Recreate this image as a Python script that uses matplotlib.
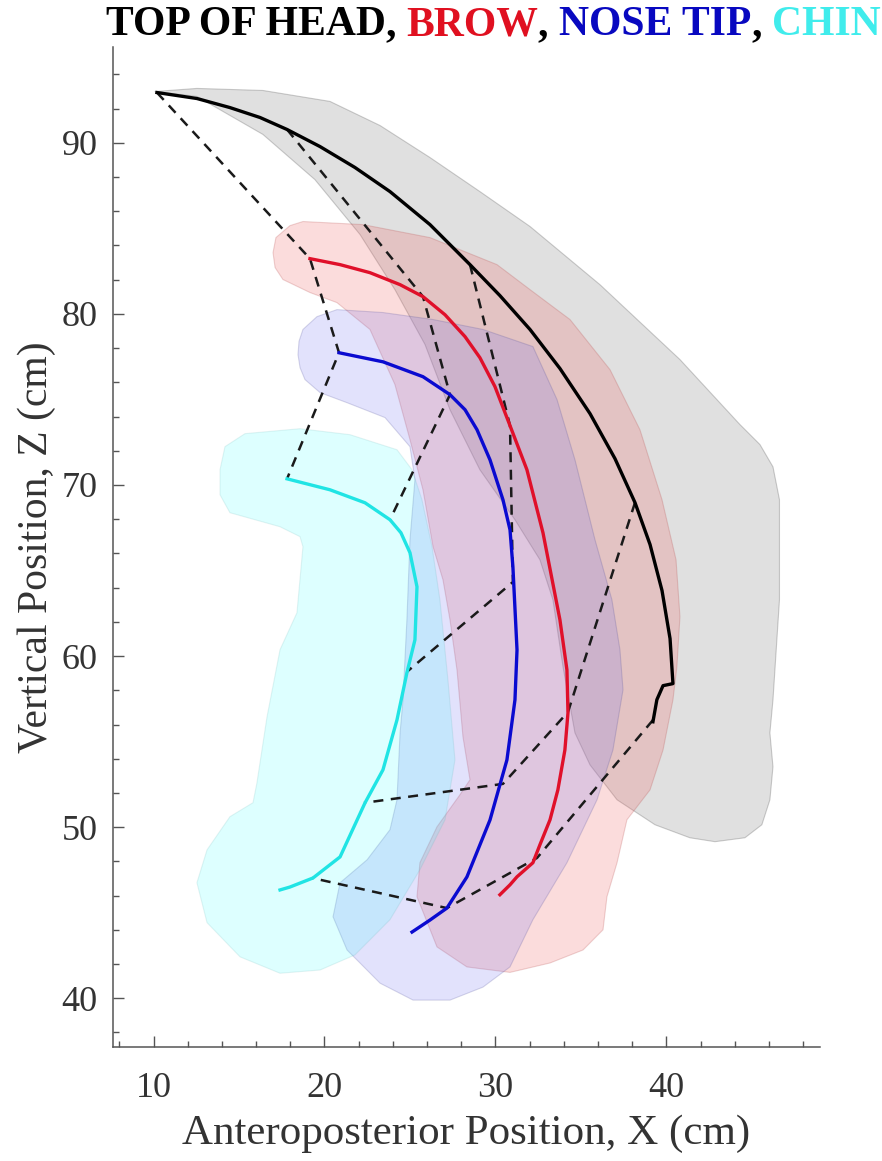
from matplotlib import pyplot as plt
from matplotlib.ticker import MultipleLocator
from matplotlib.offsetbox import TextArea, HPacker, AnchoredOffsetbox

plt.rcParams['font.family'] = ['Liberation Serif', 'DejaVu Serif']

# mean trajectories (cm)
head_x = [10.20, 12.54, 14.47, 16.23, 17.81, 19.74, 21.78, 23.83, 26.17, 28.51, 30.26,
          32.02, 33.77, 35.53, 36.99, 38.16, 39.04, 39.74, 40.21, 40.38, 39.80, 39.44, 39.21]
head_z = [92.94, 92.59, 92.06, 91.48, 90.78, 89.78, 88.56, 87.15, 85.22, 82.88, 81.07,
          79.09, 76.81, 74.17, 71.54, 68.97, 66.52, 63.83, 61.02, 58.39, 58.27, 57.45, 56.16]

brow_x = [19.15, 20.91, 22.66, 24.42, 25.76, 27.05, 28.22, 29.09, 29.97, 30.85, 31.84, 32.78,
          33.77, 34.18, 34.24, 34.06, 33.65, 33.19, 32.60, 32.19, 31.26, 30.85, 30.26]
brow_z = [83.23, 82.88, 82.41, 81.71, 81.01, 79.95, 78.67, 77.44, 75.75, 73.47, 70.89, 67.20,
          62.12, 59.19, 56.68, 54.51, 52.18, 50.43, 48.97, 47.92, 47.10, 46.63, 46.05]

nose_x = [20.85, 23.42, 25.76, 27.34, 28.22, 28.92, 29.68, 30.44, 30.85, 31.02, 31.26,
          31.14, 30.67, 29.68, 28.33, 27.16, 26.17, 25.12]
nose_z = [77.73, 77.20, 76.33, 75.28, 74.40, 73.23, 71.47, 69.13, 67.38, 65.21, 60.36,
          57.44, 53.93, 50.42, 47.09, 45.27, 44.57, 43.87]

chin_x = [17.81, 20.32, 22.37, 23.83, 24.47, 25.00, 25.41, 25.29, 24.82, 24.24, 23.42, 22.37,
          20.91, 19.33, 17.98, 17.40]
chin_z = [70.36, 69.72, 68.96, 67.97, 67.21, 66.04, 64.05, 60.95, 59.02, 56.27, 53.35, 51.42,
          48.26, 47.03, 46.50, 46.33]

# variability envelopes (cm)
head_env_x = [10.09, 12.54, 16.40, 20.32, 23.25, 26.17, 29.09, 32.02, 36.11, 40.79, 44.30,
              45.47, 46.23, 46.61, 46.61, 46.23, 46.05, 46.23, 46.05, 45.58, 44.59, 42.84,
              41.37, 39.33, 37.11, 35.53, 34.65, 33.95, 33.36, 32.60, 31.14, 29.09, 27.34,
              25.88, 24.12, 22.08, 19.44, 16.40, 12.54]
head_env_z = [93.00, 93.18, 93.06, 92.42, 91.01, 89.14, 87.15, 85.11, 81.71, 77.33, 73.53,
              72.36, 71.06, 69.14, 63.29, 57.44, 55.51, 53.53, 51.60, 50.14, 49.38, 49.15,
              49.38, 50.14, 51.60, 53.64, 55.51, 59.37, 63.29, 65.63, 67.97, 70.89, 74.40,
              78.21, 81.42, 84.64, 87.85, 90.49, 92.71]

brow_env_x = [16.99, 17.16, 17.98, 18.74, 22.25, 26.17, 30.09, 32.02, 34.36, 36.70, 38.45,
              39.74, 40.56, 40.79, 40.61, 40.38, 39.80, 39.04, 37.69, 37.11, 36.52, 36.29,
              35.12, 33.19, 30.85, 28.33, 26.58, 25.41, 25.58, 26.58, 27.92, 28.51, 28.10,
              27.75, 27.34, 26.93, 26.35, 25.76, 25.00, 24.12, 22.66, 20.73, 19.15, 17.57,
              17.11]
brow_env_z = [83.58, 84.46, 85.16, 85.40, 85.22, 84.46, 82.88, 81.42, 79.67, 76.74, 73.23,
              69.14, 65.63, 62.30, 59.37, 57.44, 54.51, 52.18, 50.43, 47.92, 45.93, 44.00,
              42.82, 42.06, 41.51, 41.83, 43.00, 45.93, 47.92, 50.02, 51.89, 52.77, 55.27,
              59.19, 62.12, 64.46, 66.39, 69.72, 72.65, 75.87, 79.09, 80.66, 81.25, 82.01,
              82.71]

nose_env_x = [18.57, 18.45, 18.51, 18.74, 19.56, 20.73, 23.42, 26.35, 29.27, 32.19, 33.60,
              34.65, 35.82, 36.81, 37.28, 37.46, 36.87, 35.94, 34.18, 32.19, 30.85, 29.27,
              27.34, 25.18, 23.25, 21.32, 20.50, 20.91, 22.49, 23.83, 24.24, 24.42, 24.59,
              24.82, 25.00, 25.29, 25.00, 23.54, 21.32, 19.74, 18.86]
nose_env_z = [76.86, 77.62, 78.40, 79.09, 79.84, 80.25, 80.08, 79.67, 79.09, 78.09, 74.99,
              71.47, 66.80, 63.29, 60.37, 58.03, 54.51, 51.60, 47.92, 44.59, 41.83, 40.65,
              39.89, 39.89, 40.88, 42.82, 44.76, 46.75, 48.09, 49.85, 51.60, 55.51, 57.44,
              62.12, 66.80, 70.31, 72.24, 73.94, 74.81, 75.40, 76.16]

chin_env_x = [13.89, 14.18, 15.35, 18.57, 21.49, 24.24, 25.12, 25.70, 26.29, 26.75, 27.22,
              27.63, 27.05, 25.58, 23.83, 21.78, 19.74, 17.40, 15.06, 13.13, 12.54, 13.13,
              14.47, 15.82, 16.05, 16.64, 17.40, 18.39, 18.74, 18.57, 17.40, 14.47, 13.89]
chin_env_z = [70.89, 72.24, 73.00, 73.29, 72.94, 72.06, 70.89, 69.14, 66.39, 63.29, 58.61,
              53.93, 50.43, 47.51, 44.59, 42.53, 41.65, 41.46, 42.42, 44.42, 46.75, 48.67,
              50.61, 51.43, 52.59, 56.45, 60.37, 62.53, 66.39, 66.98, 67.56, 68.38, 69.43]

# same instants on the four landmarks: head, brow, nose tip, chin
frames_x = [[10.20, 19.15, 20.85, 17.81],
            [17.81, 25.76, 27.34, 23.83],
            [28.51, 30.85, 31.02, 24.82],
            [38.16, 34.24, 30.44, 22.31],
            [39.21, 32.43, 27.16, 19.27]]
frames_z = [[92.94, 83.23, 77.73, 70.36],
            [90.78, 81.01, 75.28, 67.97],
            [82.88, 73.47, 64.33, 59.08],
            [68.97, 56.73, 52.53, 51.42],
            [56.26, 48.20, 45.27, 47.03]]

fig = plt.figure(figsize=(8.82, 11.61), dpi=100)
ax = fig.add_axes([0.1281, 0.0982, 0.8016, 0.8613])

ax.fill(head_env_x, head_env_z, facecolor='#909090', alpha=0.28, edgecolor='#505050',
        linewidth=0.8, joinstyle='round')
ax.fill(brow_env_x, brow_env_z, facecolor='#f06060', alpha=0.22, edgecolor='#b04040',
        linewidth=0.8, joinstyle='round')
ax.fill(nose_env_x, nose_env_z, facecolor='#7070f0', alpha=0.2, edgecolor='#404090',
        linewidth=0.8, joinstyle='round')
ax.fill(chin_env_x, chin_env_z, facecolor='#30ffff', alpha=0.16, edgecolor='#60b0b0',
        linewidth=0.8, joinstyle='round')

for fx, fz in zip(frames_x, frames_z):
    ax.plot(fx, fz, color='#1a1a1a', lw=1.8, linestyle=(0, (4, 3)))

ax.plot(head_x, head_z, color='black', lw=2.4, solid_joinstyle='round')
ax.plot(brow_x, brow_z, color='#e0102a', lw=2.4, solid_joinstyle='round')
ax.plot(nose_x, nose_z, color='#0a0ad0', lw=2.4, solid_joinstyle='round')
ax.plot(chin_x, chin_z, color='#20e4e4', lw=2.4, solid_joinstyle='round')

ax.set_xlim(7.63, 48.98)
ax.set_ylim(37.15, 95.6)
ax.xaxis.set_major_locator(MultipleLocator(10))
ax.xaxis.set_minor_locator(MultipleLocator(2))
ax.yaxis.set_major_locator(MultipleLocator(10))
ax.yaxis.set_minor_locator(MultipleLocator(2))
ax.tick_params(which='both', direction='in', color='#555555', labelcolor='#333333',
               labelsize=26)
ax.tick_params(which='major', length=8, width=1)
ax.tick_params(which='minor', length=4, width=1)
ax.tick_params(axis='y', pad=11)
ax.tick_params(axis='x', pad=18)
for s in ['top', 'right']:
    ax.spines[s].set_visible(False)
for s in ['left', 'bottom']:
    ax.spines[s].set_color('#555555')
    ax.spines[s].set_linewidth(1.1)

ax.set_xlabel('Anteroposterior Position, X (cm)', fontsize=31, color='#333333', labelpad=7)
ax.set_ylabel('Vertical Position, Z (cm)', fontsize=30, color='#333333', labelpad=4)

# multicolour title
parts = [('TOP OF HEAD', 'black'), (', ', 'black'), ('BROW', '#e01020'), (', ', 'black'),
         ('NOSE TIP', '#0808c0'), (', ', 'black'), ('CHIN', '#40ecec')]
areas = [TextArea(t, textprops=dict(color=c, fontsize=30, fontweight='bold',
                                    family='Liberation Serif')) for t, c in parts]
box = HPacker(children=areas, align='baseline', pad=0, sep=0)
title = AnchoredOffsetbox(loc='upper right', child=box, pad=0, borderpad=0, frameon=False,
                          bbox_to_anchor=(881 / 882, 1 - 6 / 1161),
                          bbox_transform=fig.transFigure)
fig.add_artist(title)

fig.savefig('out.png', dpi=100)
